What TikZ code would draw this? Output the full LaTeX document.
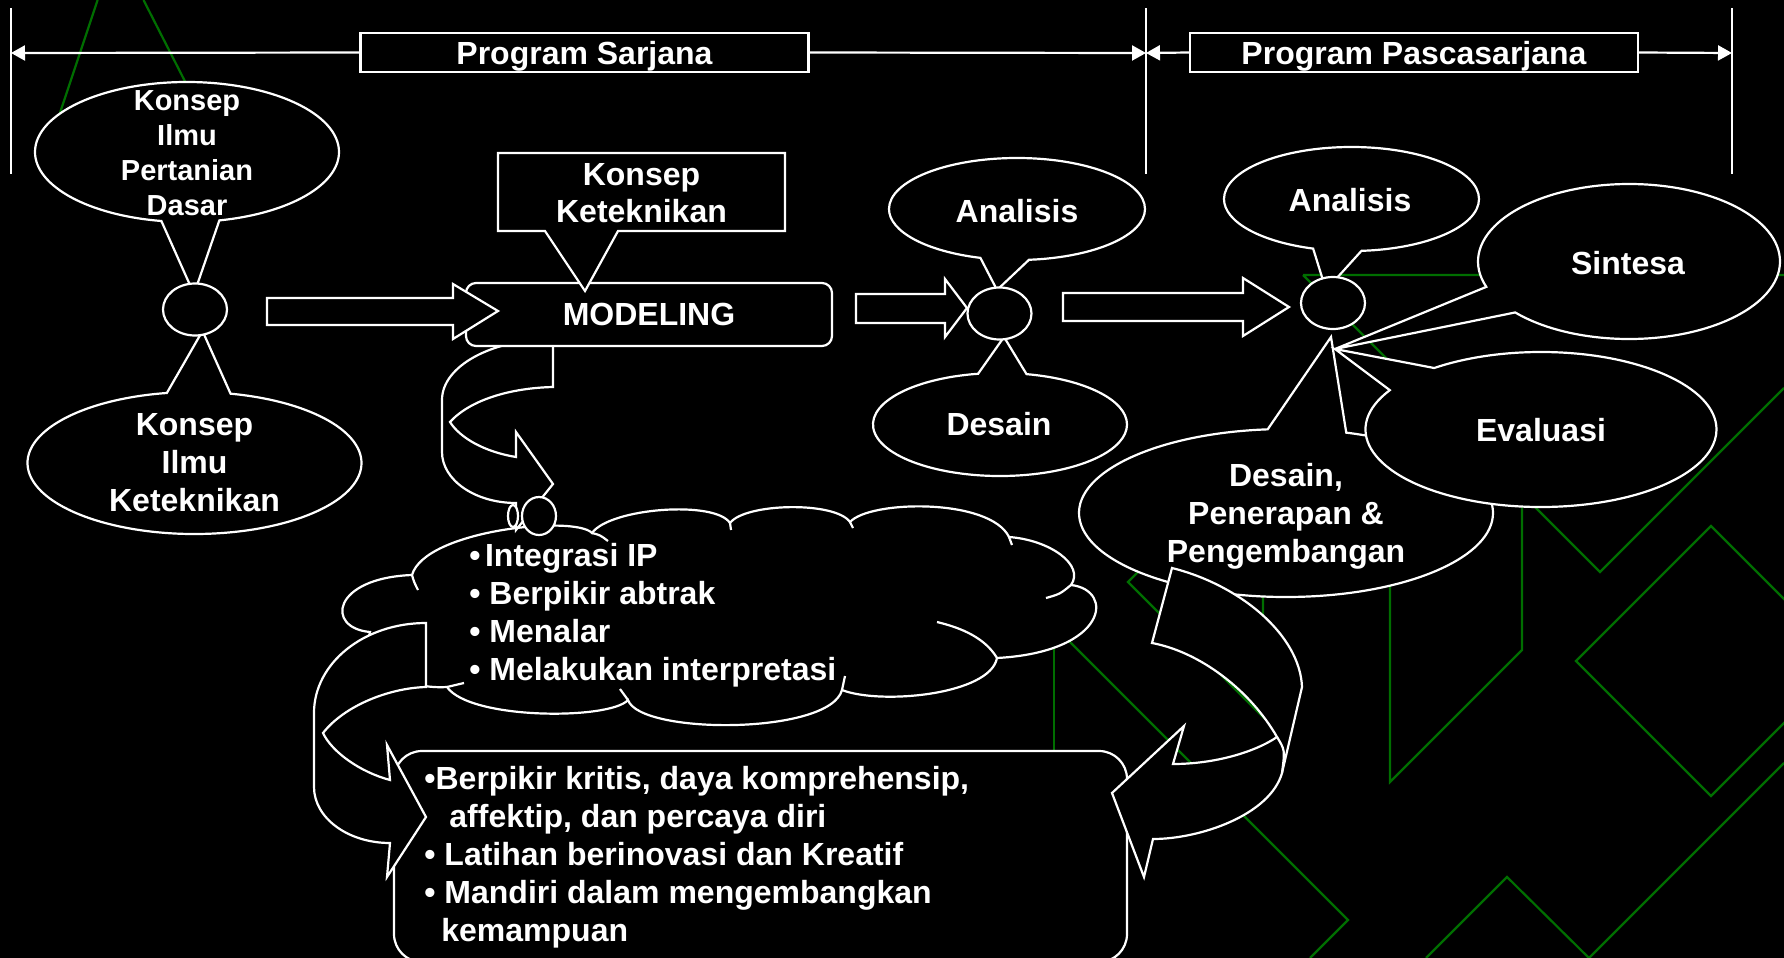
\documentclass[tikz,border=0pt]{standalone}
\usepackage{fontspec}
\setmainfont{Liberation Sans}
\usetikzlibrary{arrows.meta,shapes.callouts,shapes.geometric}
\definecolor{bggreen}{RGB}{0,110,0}

\begin{document}
\begin{tikzpicture}[x=0.5pt,y=-0.5pt,
  wl/.style={draw=white,line width=1.1pt},
  blk/.style={wl,fill=black},
  gl/.style={draw=bggreen,line width=1.1pt},
  txt/.style={text=white,inner sep=0pt,align=center,font=\bfseries\fontsize{16pt}{19pt}\selectfont},
  oval/.style={blk,ellipse callout,inner sep=0pt,callout pointer arc=22},
  spot/.style={blk,ellipse,inner sep=0pt,minimum width=32pt,minimum height=26pt},
  labelbox/.style={blk,txt,text depth=0pt,minimum width=224pt,minimum height=19.5pt},
  dimline/.style={wl,-{Triangle[length=7pt,width=7.5pt]}}]
\fill[black] (0,0) rectangle (1784,958);
\useasboundingbox (0,0) rectangle (1784,958);
% background lattice
\begin{scope}
\clip (0,0) rectangle (1784,958);
\draw[gl] (97.6,0)--(55,128) (143.5,0)--(195,101);
\draw[gl] (1303,275)--(1784,275) (1303,275)--(1600,572)--(1784,388);
\draw[gl] (1711,526)--(1576,661)--(1711,796)--(1846,661)--cycle;
\draw[gl] (1522,480)--(1522,650)--(1390,782)--(1390,560);
\draw[gl] (1784,763)--(1589,958) (1426,958)--(1507,877)--(1589,958);
\draw[gl] (990,562)--(1348,920)--(1310,958);
\draw[gl] (1150,560)--(1128,582)--(1263,717)--(1263,590);
\draw[gl] (1054,640)--(1054,755);
\end{scope}

% program bar
\coordinate (vA) at (11,53); \coordinate (vB) at (1146,53); \coordinate (vC) at (1732,53);
\draw[wl] (11,8)--(11,174) (1146,8)--(1146,174) (1732,8)--(1732,174);
\node[labelbox] (sarjana) at (584.5,52.5) {Program Sarjana};
\node[labelbox] (pasca) at (1414,52.5) {Program Pascasarjana};
\draw[dimline] (sarjana.west)--(vA);
\draw[dimline] (sarjana.east)--(vB);
\draw[dimline] (pasca.west)--(vB);
\draw[dimline] (pasca.east)--(vC);

% left callouts
\coordinate (t1) at (194,294); \coordinate (t2) at (202.5,331);
\node[oval,minimum width=152pt,minimum height=70pt,callout absolute pointer={(t1)}] (ov1) at (187,152) {};
\node[oval,minimum width=167pt,minimum height=71pt,callout absolute pointer={(t2)}] (ov2) at (194.5,463) {};
\node[spot] (o1) at (195,309.5) {};

% cloud with curved arrow
\draw[blk] (412,575) .. controls (425,530) and (575,515) .. (592,533)
  .. controls (610,508) and (715,500) .. (730,523)
  .. controls (745,503) and (835,501) .. (850,522)
  .. controls (870,500) and (990,498) .. (1009,537)
  .. controls (1050,540) and (1085,565) .. (1071,585)
  .. controls (1115,590) and (1108,652) .. (997,658)
  .. controls (990,695) and (880,705) .. (842,690)
  .. controls (830,735) and (640,735) .. (628,700)
  .. controls (610,720) and (470,720) .. (447,687)
  .. controls (400,690) and (360,660) .. (370,632)
  .. controls (325,628) and (332,578) .. (412,575) -- cycle;
\draw[wl] (412,575) .. controls (414,582) .. (418,590) (592,533) .. controls (600,535) .. (608,541)
  (730,523) -- (731,530) (850,522) -- (853,528) (1009,537) -- (1012,545)
  (1071,585) .. controls (1060,594) .. (1046,598) (997,658) .. controls (985,638) and (962,628) .. (937,622)
  (842,690) -- (845,676) (628,700) -- (620,689) (447,687) -- (464,683);
\draw[blk] (553,339) .. controls (492,339) and (442,366) .. (442,400) -- (442,452)
  .. controls (442,480) and (475,503) .. (516,503) -- (516,530) -- (553,484) -- (516,432) -- (516,457)
  .. controls (485,452) and (460,438) .. (450,422) .. controls (470,400) and (510,388) .. (553,387) -- cycle;
\node[blk,ellipse,inner sep=0pt,minimum width=17pt,minimum height=19pt] (puff1) at (539,516) {};
\node[blk,ellipse,inner sep=0pt,minimum width=5pt,minimum height=11pt] (puff2) at (513,516) {};

% modeling
\node[blk,txt,rounded corners=5pt,minimum width=183pt,minimum height=31.5pt] (model) at (649,314.5) {MODELING};
\draw[blk] (267,298)--(453,298)--(453,284)--(498,311)--(453,339)--(453,325)--(267,325)--cycle;
\draw[blk] (498,153)--(785,153)--(785,231)--(618,231)--(585,291)--(545,231)--(498,231)--cycle;
\draw[blk] (856,294)--(945,294)--(945,279)--(967,308)--(945,337)--(945,323)--(856,323)--cycle;

% sarjana analysis
\coordinate (t3) at (997,290); \coordinate (t4) at (1004,337);
\node[oval,minimum width=128pt,minimum height=51pt,callout absolute pointer={(t3)}] (ov3) at (1017,209) {};
\node[oval,minimum width=127pt,minimum height=51.5pt,callout absolute pointer={(t4)}] (ov4) at (1000,424.5) {};
\node[spot] (o2) at (999.5,313.5) {};
\draw[blk] (1063,293)--(1243,293)--(1243,278)--(1289,307)--(1243,336)--(1243,321)--(1063,321)--cycle;

% pascasarjana
\coordinate (t5) at (1326,290); \coordinate (t6) at (1335,349); \coordinate (t7) at (1331,337);
\node[oval,minimum width=207pt,minimum height=84pt,callout absolute pointer={(t7)}] (ov7) at (1286,513) {};
\node[oval,minimum width=175.5pt,minimum height=77.5pt,callout absolute pointer={(t6)}] (ov6) at (1541,429.5) {};
\node[oval,minimum width=151pt,minimum height=77.5pt,callout absolute pointer={(t6)}] (ov5) at (1629,261.5) {};
\node[oval,minimum width=127.5pt,minimum height=52pt,callout absolute pointer={(t5)}] (ov8) at (1351.5,199) {};
\node[spot] (o3) at (1333,303) {};

% bottom box and return arrows
\draw[blk,rounded corners=14pt] (394,751) rectangle (1127,962);
\draw[blk] (426,623) .. controls (364,623) and (314,663) .. (314,713) -- (314,787)
  .. controls (314,818) and (348,843) .. (390,843) -- (387,877) -- (426,817) -- (387,745) -- (390,780)
  .. controls (360,772) and (332,752) .. (323,733) .. controls (345,705) and (390,688) .. (426,687) -- cycle;
\draw[blk] (1172,568) .. controls (1240,585) and (1300,635) .. (1302,687) -- (1282,773)
  .. controls (1270,815) and (1200,839) .. (1153,839) -- (1144,877) -- (1112,793) -- (1184,726) -- (1173,764)
  .. controls (1215,764) and (1255,752) .. (1277,737) .. controls (1250,690) and (1200,652) .. (1152,643) -- cycle;
\draw[wl] (1277,737) .. controls (1285,750) .. (1282,773);

% texts
\node[txt,font=\bfseries\fontsize{14.5pt}{17.6pt}\selectfont] (kipd) at (187,153) {Konsep\\Ilmu\\Pertanian\\Dasar};
\node[txt] (kik) at (194.5,463) {Konsep\\Ilmu\\Keteknikan};
\node[txt,font=\bfseries\fontsize{16pt}{18.5pt}\selectfont] (kk) at (641.5,193) {Konsep\\Keteknikan};
\node[txt] (an1) at (1017,211) {Analisis};
\node[txt] (des1) at (999,424) {Desain};
\node[txt] (an2) at (1350,200) {Analisis};
\node[txt] (sin) at (1628,263) {Sintesa};
\node[txt] (eva) at (1541,430) {Evaluasi};
\node[txt] (dpp) at (1286,516) {Desain,\\Penerapan \&\\Pengembangan};
\node[txt,align=left,anchor=west] (ctext) at (469,615) {•\hspace{0.14em}Integrasi IP\\• Berpikir abtrak\\• Menalar\\• Melakukan interpretasi};
\node[txt,align=left,anchor=west] (btext) at (424,857) {•Berpikir kritis, daya komprehensip,\\\hspace*{12.5pt}affektip, dan percaya diri\\• Latihan berinovasi dan Kreatif\\• Mandiri dalam mengembangkan\\\hspace*{8.5pt}kemampuan};
\end{tikzpicture}
\end{document}
